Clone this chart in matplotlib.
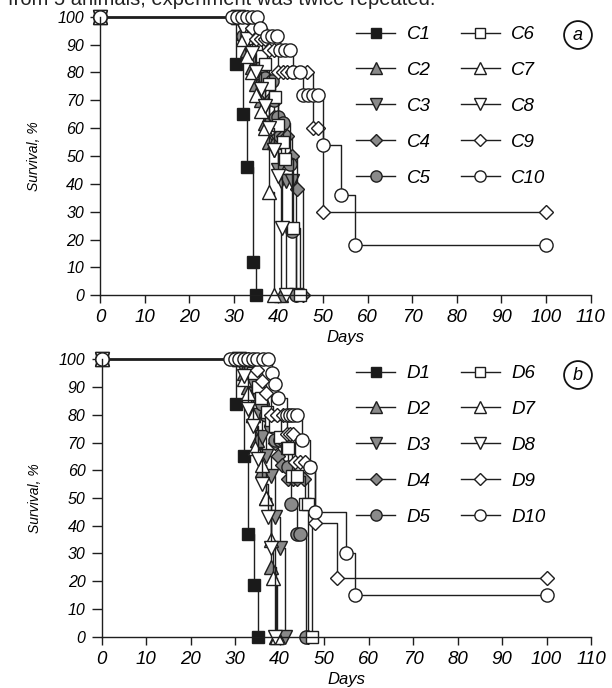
import numpy as np
import matplotlib
matplotlib.use("Agg")
import matplotlib.pyplot as plt

plt.rcParams["font.family"] = ["Liberation Sans", "DejaVu Sans"]
plt.rcParams["font.style"] = "italic"

# ---- data (days, survival %) ----
c_days = [
    [0, 30.5, 32, 33, 34.2, 35],
    [0, 31, 32, 33, 34, 35, 36, 37, 38, 39, 40.5],
    [0, 31, 32, 33, 34, 35, 36, 37, 38, 39, 40, 40.6, 41.8, 43, 44],
    [0, 31, 33, 34, 35, 36, 37, 38, 39, 40, 41, 42, 43, 44.2, 45.5],
    [0, 31, 32, 33, 34, 35, 36, 37, 38.5, 39, 40, 41, 42.6, 43, 44],
    [0, 31, 33, 34, 35, 36, 37, 38, 39.2, 40, 41, 41.5, 43.3, 44.8],
    [0, 31, 32, 33, 34, 35, 36, 37, 38, 39],
    [0, 31, 32, 33, 34, 35, 36, 37, 38, 39, 40, 40.7, 41.8],
    [0, 31, 33, 34, 35, 36, 37, 38, 39, 40, 41, 42, 43, 46.5, 47.8, 48.9, 50, 100],
    [0, 29.6, 30.7, 31.8, 32.9, 34.1, 35.2, 35.9, 37.4, 38.5, 39.6, 40.3, 41.4, 42.6,
     43.3, 44.8, 45.6, 46.7, 47.8, 48.9, 50.1, 54, 57.2, 100],
]
c_surv = [
    [100, 83, 65, 46, 12, 0],
    [100, 100, 94, 88, 82, 76, 70, 62, 55, 55, 0],
    [100, 100, 96, 92, 86, 80, 74, 68, 62, 52, 45, 41, 41, 41, 0],
    [100, 100, 96, 90, 86, 80, 76, 70, 64, 57, 57, 57, 50, 38, 0],
    [100, 100, 93, 93, 88, 85, 82, 78, 77, 70, 64, 62, 47, 23, 0],
    [100, 100, 96, 92, 88, 86, 83, 76, 71, 61, 55, 49, 24, 0],
    [100, 100, 92, 86, 80, 72, 66, 60, 37, 0],
    [100, 100, 96, 92, 87, 80, 74, 68, 60, 52, 43, 24, 0],
    [100, 100, 100, 96, 92, 92, 92, 88, 88, 80, 80, 80, 80, 80, 60, 60, 30, 30],
    [100, 100, 100, 100, 100, 100, 100, 96, 93, 93, 93, 88, 88, 88,
     80, 80, 72, 72, 72, 72, 54, 36, 18, 18],
]

d_days = [
    [0, 30.2, 32, 33, 34.2, 35.2],
    [0, 31, 32, 33, 34, 35, 36, 37, 38, 39.2],
    [0, 31, 32, 33, 34, 35, 36, 37, 38, 39, 40, 41.3],
    [0, 31, 33, 34, 35, 36, 37, 38, 39, 39.7, 40.5, 41.9, 43, 44, 45.5, 46.5],
    [0, 31, 33, 34, 35, 36, 37, 38, 39, 40, 41, 42, 42.5, 43.9, 44.5, 46],
    [0, 31, 33, 34, 35.2, 35.9, 37.3, 38, 39, 40, 41.6, 42, 42.9, 44, 45.7, 46.5, 47.2],
    [0, 31, 32, 32.9, 34, 34.5, 36, 37, 38, 38.6, 39.5],
    [0, 31, 32, 33, 34, 35.2, 36, 37.5, 38, 39],
    [0, 31, 33, 35, 36, 37, 38.2, 39.4, 40.8, 41.7, 42.4, 43, 43.5, 44.6, 45.7, 48, 52.9, 100],
    [0, 28.9, 30, 31, 32, 33, 34, 35, 36.3, 37.5, 38.3, 39, 39.7, 41.6, 42.4, 43.1,
     43.9, 45, 46.9, 47.9, 55, 56.9, 100],
]
d_surv = [
    [100, 84, 65, 37, 18.5, 0],
    [100, 100, 95, 90, 80, 71, 60, 50, 25, 0],
    [100, 100, 96, 92, 86, 80, 72, 65, 58, 43, 32, 0],
    [100, 100, 96, 92, 88, 84, 80, 76, 70, 65, 62, 57, 57, 57, 57, 0],
    [100, 100, 96, 92, 88, 84, 80, 76, 71, 71, 71, 61, 48, 37, 37, 0],
    [100, 100, 100, 95, 90, 86, 81, 78, 76, 72, 68, 68, 58, 58, 48, 48, 0],
    [100, 100, 93, 88, 80, 68, 62, 50, 35, 21, 0],
    [100, 100, 94, 82, 76, 64, 55, 43, 32, 0],
    [100, 100, 100, 96, 92, 88, 80, 80, 80, 73, 73, 73, 63, 63, 63, 41, 21, 21],
    [100, 100, 100, 100, 100, 100, 100, 100, 100, 100, 95, 91, 86, 80, 80, 80,
     80, 71, 61, 45, 30, 15, 15],
]

c_labels = ["C%d" % i for i in range(1, 11)]
d_labels = ["D%d" % i for i in range(1, 11)]
x_ticks = list(range(0, 111, 10))
y_ticks = list(range(0, 101, 10))

# marker, face colour, size
styles = [("s", "#1a1a1a", 9), ("^", "#8a8a8a", 9.5), ("v", "#8a8a8a", 9.5),
          ("D", "#8a8a8a", 7), ("o", "#8a8a8a", 9.5), ("s", "white", 9),
          ("^", "white", 9.5), ("v", "white", 9.5), ("D", "white", 7),
          ("o", "white", 9.5)]

LINE = "#1e1e1e"


def draw_panel(ax, days, surv, labels, legend_anchor):
    for (mk, fc, ms), x, y, lab in zip(styles, days, surv, labels):
        ax.plot(x, y, drawstyle="steps-post", color=LINE, lw=1.0,
                marker=mk, markerfacecolor=fc, markeredgecolor=LINE,
                markeredgewidth=1.0, markersize=ms, label=lab, clip_on=False)
    ax.set_xlim(0, 110)
    ax.set_ylim(0, 100)
    for s in ["top", "right"]:
        ax.spines[s].set_visible(False)
    for s in ["left", "bottom"]:
        ax.spines[s].set_color(LINE)
        ax.spines[s].set_linewidth(1.0)
    ax.set_xticks(x_ticks)
    ax.set_yticks(y_ticks)
    ax.tick_params(direction="out", width=1.0, color=LINE)
    ax.tick_params(axis="x", length=6, pad=4, labelsize=13.5)
    ax.tick_params(axis="y", length=7.5, pad=4, labelsize=11.5)
    ax.set_xlabel("Days", fontsize=12, labelpad=3)
    ax.set_ylabel("Survival, %", fontsize=10, labelpad=12)
    ax.legend(ncol=2, loc="upper left", bbox_to_anchor=legend_anchor,
              bbox_transform=fig.transFigure, frameon=False,
              prop={"size": 13.5},
              handlelength=2.1, handletextpad=0.6, columnspacing=1.6,
              labelspacing=1.0, markerscale=0.85, borderpad=0,
              borderaxespad=0)


fig = plt.figure(figsize=(6.12, 6.88), dpi=100)
W, H = 612.0, 688.0
ax_a = fig.add_axes([100 / W, 1 - 295.3 / H, 490.6 / W, 278.6 / H])
ax_b = fig.add_axes([101.5 / W, 1 - 636.7 / H, 489.5 / W, 277.4 / H])

draw_panel(ax_a, c_days, c_surv, c_labels, (356 / W, 1 - 26 / H))
draw_panel(ax_b, d_days, d_surv, d_labels, (356 / W, 1 - 365 / H))

for lab, yc in [("a", 35), ("b", 375)]:
    fig.text(578 / W, 1 - yc / H, lab, ha="center", va="center", fontsize=13,
             bbox=dict(boxstyle="circle,pad=0.3", fc="white", ec="#111111",
                       lw=1.3))

fig.text(8 / W, 1 - 5 / H, "from 5 animals, experiment was twice repeated.",
         ha="left", va="baseline", fontstyle="normal", fontsize=14.5,
         color="#222222")

fig.savefig("out.png", dpi=100)
